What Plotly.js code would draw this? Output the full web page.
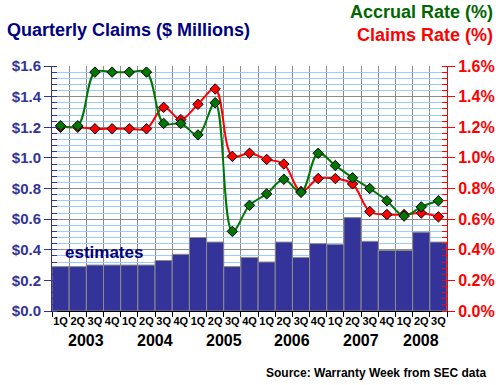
<!DOCTYPE html>
<html>
<head>
<meta charset="utf-8">
<script src="https://cdn.plot.ly/plotly-3.0.1.min.js"></script>
<style>html,body{margin:0;padding:0;background:#fff;}#chart{width:500px;height:385px;}</style>
</head>
<body>
<div id="chart"></div>
<script>
const quarters = ["1Q","2Q","3Q","4Q","1Q","2Q","3Q","4Q","1Q","2Q","3Q","4Q","1Q","2Q","3Q","4Q","1Q","2Q","3Q","4Q","1Q","2Q","3Q"];
const years = ["2003","2004","2005","2006","2007","2008"];
const claimsMillions = [0.29,0.29,0.30,0.30,0.30,0.30,0.33,0.37,0.48,0.45,0.29,0.35,0.32,0.45,0.35,0.44,0.435,0.61,0.455,0.395,0.395,0.515,0.45];
const accrualRate = [1.21,1.21,1.56,1.56,1.56,1.56,1.225,1.225,1.15,1.36,0.52,0.69,0.765,0.86,0.775,1.03,0.95,0.87,0.80,0.72,0.62,0.68,0.72];
const claimsRate = [1.20,1.20,1.19,1.19,1.19,1.19,1.33,1.25,1.35,1.45,1.01,1.03,0.99,0.96,0.78,0.865,0.865,0.83,0.65,0.63,0.63,0.64,0.615];

const xs = quarters.map((q, i) => i);
const FONT = "Liberation Sans, Arial, sans-serif";

// year label positions: center of each year's quarters
const yearCenters = [];
{
  let start = 0;
  years.forEach((y, k) => {
    let n = 0;
    for (let i = start; i < quarters.length; i++) {
      if (i > start && quarters[i] === "1Q") break;
      n++;
    }
    yearCenters.push(start + (n - 1) / 2);
    start += n;
  });
}

const traces = [
  {
    type: "bar", x: xs, y: claimsMillions, width: 1,
    marker: {color: "#333399", line: {color: "#8c8c8c", width: 1}},
    hoverinfo: "skip", yaxis: "y"
  },
  {
    type: "scatter", mode: "lines+markers", x: xs, y: claimsRate, yaxis: "y2",
    line: {color: "#ff0000", width: 2, shape: "spline", smoothing: 1},
    marker: {symbol: "diamond", size: 8, color: "#ff0000", line: {color: "#000", width: 1}},
    hoverinfo: "skip"
  },
  {
    type: "scatter", mode: "lines+markers", x: xs, y: accrualRate, yaxis: "y2",
    line: {color: "#007700", width: 2, shape: "spline", smoothing: 1},
    marker: {symbol: "diamond", size: 8, color: "#007700", line: {color: "#000", width: 1}},
    hoverinfo: "skip"
  }
];

const annotations = [
  {text: "Quarterly Claims ($ Millions)", xref: "paper", yref: "paper", x: -0.119, y: (311-30)/245,
   xanchor: "left", yanchor: "middle", showarrow: false,
   font: {family: FONT, size: 18, color: "#000080", weight: "bold"}},
  {text: "Accrual Rate (%)", xref: "paper", yref: "paper", x: (495-52)/395, y: (311-12)/245,
   xanchor: "right", yanchor: "middle", showarrow: false,
   font: {family: FONT, size: 18, color: "#006600", weight: "bold"}},
  {text: "Claims Rate (%)", xref: "paper", yref: "paper", x: (495-52)/395, y: (311-35)/245,
   xanchor: "right", yanchor: "middle", showarrow: false,
   font: {family: FONT, size: 18, color: "#ff0000", weight: "bold"}},
  {text: "estimates", xref: "paper", yref: "paper", x: (63-52)/395, y: (311-252)/245,
   xanchor: "left", yanchor: "middle", showarrow: false,
   font: {family: FONT, size: 17, color: "#000080", weight: "bold"}},
  {text: "Source: Warranty Week from SEC data", xref: "paper", yref: "paper", x: (488-52)/395, y: (311-373)/245,
   xanchor: "right", yanchor: "middle", showarrow: false,
   font: {family: FONT, size: 12, color: "#000", weight: "bold"}}
];
years.forEach((y, k) => {
  annotations.push({text: y, xref: "x", yref: "paper", x: yearCenters[k], y: (311-340)/245,
    xanchor: "center", yanchor: "middle", showarrow: false,
    font: {family: FONT, size: 16, color: "#000", weight: "bold"}});
});

const layout = {
  width: 500, height: 385,
  margin: {l: 52, r: 53, t: 66, b: 74, pad: 0},
  paper_bgcolor: "#fff", plot_bgcolor: "#fff",
  showlegend: false, bargap: 0,
  font: {family: FONT},
  xaxis: {
    range: [-0.5, 22.5], tickmode: "array", tickvals: xs, ticktext: quarters,
    showgrid: false, zeroline: false, ticks: "", showline: true, linecolor: "#000", linewidth: 1,
    tickfont: {family: FONT, size: 11, color: "#000", weight: "bold"},
    minor: {tick0: -0.5, dtick: 1, showgrid: true, gridcolor: "#8c8c8c", gridwidth: 1,
            ticks: "outside", ticklen: 5, tickcolor: "#000"}
  },
  yaxis: {
    range: [0, 1.6], dtick: 0.2, tick0: 0, tickformat: "$.1f",
    showgrid: true, gridcolor: "#8c8c8c", gridwidth: 1, zeroline: false,
    showline: true, linecolor: "#333399", linewidth: 1,
    ticks: "outside", ticklen: 7, tickcolor: "#333399",
    tickfont: {family: FONT, size: 15, color: "#333399", weight: "bold"},
    minor: {dtick: 0.04, tick0: 0, showgrid: true, gridcolor: "#99ccff", gridwidth: 1,
            ticks: "inside", ticklen: 5, tickcolor: "#333399"}
  },
  yaxis2: {
    overlaying: "y", side: "right", range: [0, 1.6], dtick: 0.2, tick0: 0,
    tickformat: ".1f", ticksuffix: "%", showgrid: false, zeroline: false,
    showline: true, linecolor: "#ff0000", linewidth: 1,
    ticks: "outside", ticklen: 7, tickcolor: "#ff0000",
    tickfont: {family: FONT, size: 16, color: "#ff0000", weight: "bold"},
    minor: {dtick: 0.04, tick0: 0, showgrid: false, ticks: "inside", ticklen: 5, tickcolor: "#ff0000"}
  },
  annotations: annotations
};

Plotly.newPlot("chart", traces, layout, {staticPlot: true, displayModeBar: false});
</script>
</body>
</html>
